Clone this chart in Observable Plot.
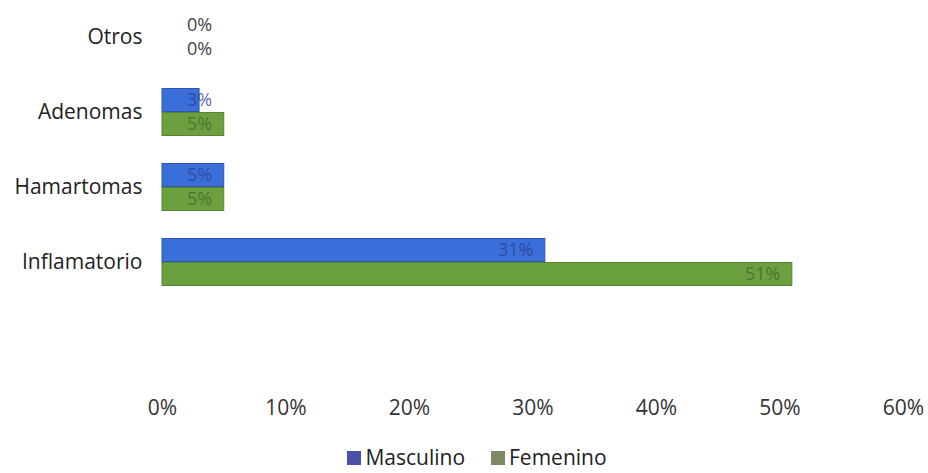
<!DOCTYPE html>
<html>
<head>
<meta charset="utf-8">
<script src="https://cdn.jsdelivr.net/npm/d3@7"></script>
<script src="https://cdn.jsdelivr.net/npm/@observablehq/plot@0.6"></script>
<style>
  html, body { margin: 0; padding: 0; background: #fff; }
  body { width: 928px; font-family: "Open Sans", sans-serif; }
  #legend { display: flex; justify-content: center; gap: 26px; font-size: 21px; color: #222; line-height: 26px; margin-left: 26px; margin-top: -4px; }
  #legend span.sw { display: inline-block; width: 14px; height: 14px; margin-right: 4px; vertical-align: 0px; }
</style>
</head>
<body>
<div id="chart"></div>
<div id="legend"></div>
<script>
const categories = ["Otros", "Adenomas", "Hamartomas", "Inflamatorio"];
const series = ["Masculino", "Femenino"];
const masculino = [0, 0.03, 0.05, 0.31];
const femenino = [0, 0.05, 0.05, 0.51];
const xTicks = [0, 0.1, 0.2, 0.3, 0.4, 0.5, 0.6];

const barColors = {Masculino: "#3a6ed8", Femenino: "#6aa03e"};
const barStroke = {Masculino: "#2d55b4", Femenino: "#55852e"};
const labelColors = {Masculino: "#2c4196", Femenino: "#44682c"};
const legendColors = {Masculino: "#4a4fa8", Femenino: "#7d8a63"};

const data = [];
categories.forEach((c, i) => {
  data.push({category: c, sex: "Masculino", value: masculino[i]});
  data.push({category: c, sex: "Femenino", value: femenino[i]});
});

const chart = Plot.plot({
  width: 928,
  height: 448,
  marginLeft: 162,
  marginRight: 25,
  marginTop: 10,
  marginBottom: 160,
  style: {fontFamily: "Open Sans, sans-serif", fontSize: "21px", color: "#222", background: "#fff"},
  x: {domain: [0, 0.6], axis: null},
  y: {domain: series, axis: null, padding: 0},
  fy: {domain: categories, paddingInner: 0.34, paddingOuter: 0, label: null},
  marks: [
    Plot.axisFy({anchor: "left", tickSize: 0, tickPadding: 20, fontSize: 21, fill: "#222", label: null}),
    Plot.axisX({ticks: xTicks, tickFormat: d3.format(".0%"), tickSize: 0, tickPadding: 114, fontSize: 21, fill: "#333", label: null, facetAnchor: "bottom"}),
    Plot.barX(data, {
      x: "value", y: "sex", fy: "category",
      fill: d => barColors[d.sex], stroke: d => barStroke[d.sex], strokeWidth: 1, insetTop: 0.5, insetBottom: 0.5
    }),
    Plot.text(data, {
      x: d => Math.max(d.value, 0.05), y: "sex", fy: "category",
      text: d => d3.format(".0%")(d.value),
      textAnchor: "end", dx: -12,
      fill: d => d.value === 0 ? "#444" : labelColors[d.sex],
      fillOpacity: d => d.value === 0 ? 1 : 0.8,
      fontSize: 18
    })
  ]
});
document.getElementById("chart").appendChild(chart);

const legend = document.getElementById("legend");
series.forEach(s => {
  const item = document.createElement("div");
  const sw = document.createElement("span");
  sw.className = "sw";
  sw.style.background = legendColors[s];
  item.appendChild(sw);
  item.appendChild(document.createTextNode(s));
  legend.appendChild(item);
});
</script>
</body>
</html>
